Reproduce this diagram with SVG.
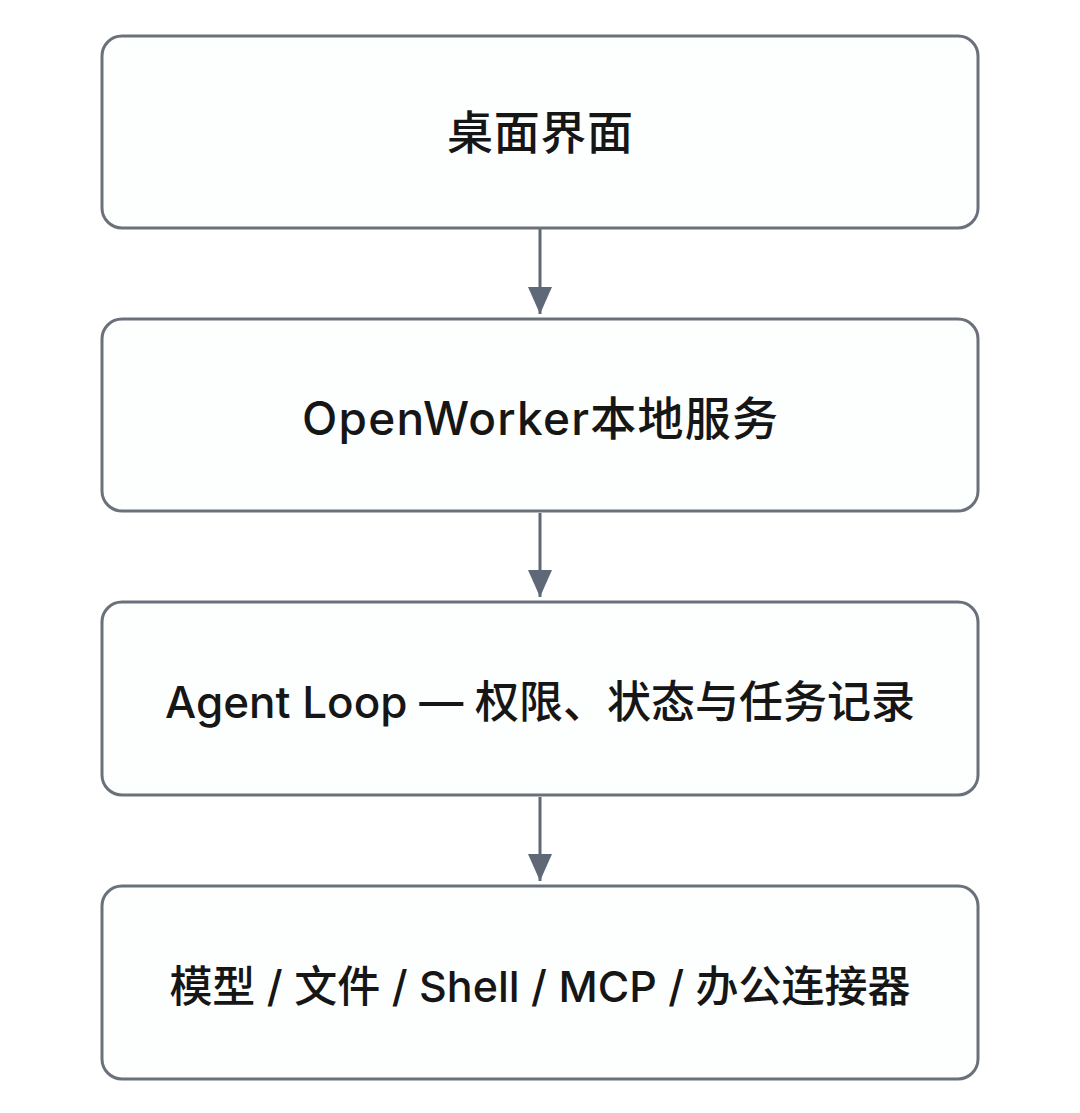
<svg xmlns="http://www.w3.org/2000/svg" width="1080" height="1113" viewBox="0 0 1080 1113">
<style>
.box{fill:#fdfefe;stroke:#6b717b;stroke-width:3}
.lbl{font-family:"Inter","Noto Sans CJK SC",sans-serif;font-size:46px;font-weight:500;fill:#161616;text-anchor:middle;dominant-baseline:central}
.sm{font-size:44px}
.conn{stroke:#5f6877;stroke-width:3;fill:none}
</style>
<defs>
<marker id="ah" markerWidth="9" markerHeight="8" refX="9" refY="4" orient="auto" markerUnits="strokeWidth">
<path d="M0,0 L9,4 L0,8 Z" fill="#5f6877"/>
</marker>
</defs>
<rect width="1080" height="1113" fill="#ffffff"/>
<g id="connectors">
<line class="conn" x1="540" y1="229" x2="540" y2="314" marker-end="url(#ah)"/>
<line class="conn" x1="540" y1="513" x2="540" y2="597" marker-end="url(#ah)"/>
<line class="conn" x1="540" y1="797" x2="540" y2="881" marker-end="url(#ah)"/>
</g>
<g id="node1">
<rect class="box" x="102" y="36" width="876" height="192" rx="20"/>
<text class="lbl" x="540" y="132" textLength="186" lengthAdjust="spacing">桌面界面</text>
</g>
<g id="node2">
<rect class="box" x="102" y="319" width="876" height="192" rx="20"/>
<text class="lbl" x="540" y="418" textLength="476" lengthAdjust="spacing">OpenWorker本地服务</text>
</g>
<g id="node3">
<rect class="box" x="102" y="602" width="876" height="193" rx="20"/>
<text class="lbl sm" x="540" y="702">Agent Loop — 权限、状态与任务记录</text>
</g>
<g id="node4">
<rect class="box" x="102" y="886" width="876" height="193" rx="20"/>
<text class="lbl" x="540" y="986" style="font-size:43px">模型 / 文件 / Shell / MCP / 办公连接器</text>
</g>
</svg>
